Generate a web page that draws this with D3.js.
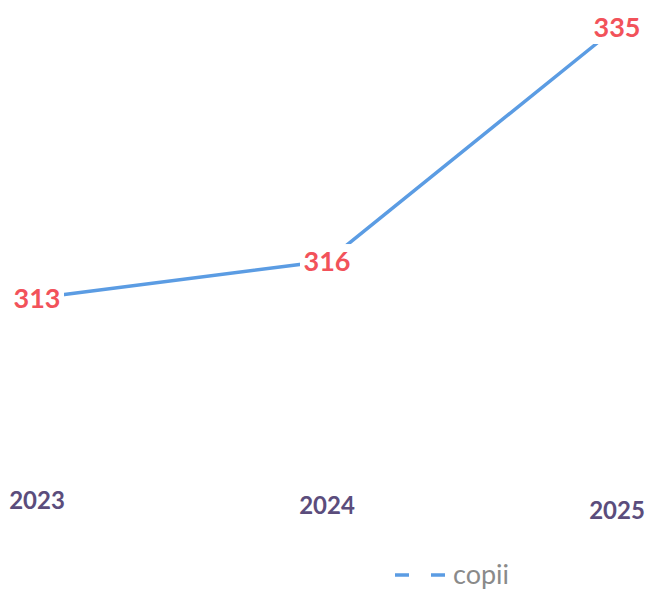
<!DOCTYPE html>
<html>
<head>
<meta charset="utf-8">
<script src="https://d3js.org/d3.v7.min.js"></script>
<style>
  body { margin: 0; background: #fff; }
  svg { display: block; }
</style>
</head>
<body>
<script>
// chart data
var years = ["2023", "2024", "2025"];
var copii = [313, 316, 335];
var seriesName = "copii";

var W = 646, H = 592;
var svg = d3.select("body").append("svg")
    .attr("width", W)
    .attr("height", H);

var x = d3.scalePoint().domain(years).range([37, 617]);
var y = d3.scaleLinear().domain([313, 335]).range([298, 27]);

var lineColor = "#5b9ce3";
var labelColor = "#f2525a";

var pts = years.map(function(d, i) { return {year: d, v: copii[i]}; });

// the line
svg.append("path")
    .datum(pts)
    .attr("fill", "none")
    .attr("stroke", lineColor)
    .attr("stroke-width", 3.5)
    .attr("d", d3.line()
      .x(function(d) { return x(d.year); })
      .y(function(d) { return y(d.v); }));

// data labels with white background
var lab = svg.selectAll(".lab")
    .data(pts)
  .enter().append("g")
    .attr("transform", function(d) { return "translate(" + x(d.year) + "," + y(d.v) + ")"; });

lab.append("rect")
    .attr("x", -27).attr("y", -17)
    .attr("width", 54).attr("height", 34)
    .attr("fill", "#fff");

lab.append("text")
    .attr("text-anchor", "middle")
    .attr("dy", "0.36em")
    .attr("font-family", "Lato, sans-serif")
    .attr("font-weight", "bold")
    .attr("font-size", 27)
    .attr("fill", labelColor)
    .text(function(d) { return d.v; });

// category axis labels (no line)
var yearY = [500, 505, 510];
svg.selectAll(".yr")
    .data(years)
  .enter().append("text")
    .attr("x", function(d) { return x(d); })
    .attr("y", function(d, i) { return yearY[i]; })
    .attr("dy", "0.36em")
    .attr("text-anchor", "middle")
    .attr("font-family", "Lato, sans-serif")
    .attr("font-weight", "bold")
    .attr("font-size", 24)
    .attr("fill", "#5b4d7c")
    .text(function(d) { return d; });

// legend
var lg = svg.append("g").attr("transform", "translate(395,575)");
lg.append("line")
    .attr("x1", 0).attr("x2", 53)
    .attr("stroke", lineColor)
    .attr("stroke-width", 3.5)
    .attr("stroke-dasharray", "14,22");
lg.append("text")
    .attr("x", 58)
    .attr("dy", "0.34em")
    .attr("font-family", "Lato, sans-serif")
    .attr("font-size", 27)
    .attr("fill", "#8a8a8a")
    .text(seriesName);
</script>
</body>
</html>
